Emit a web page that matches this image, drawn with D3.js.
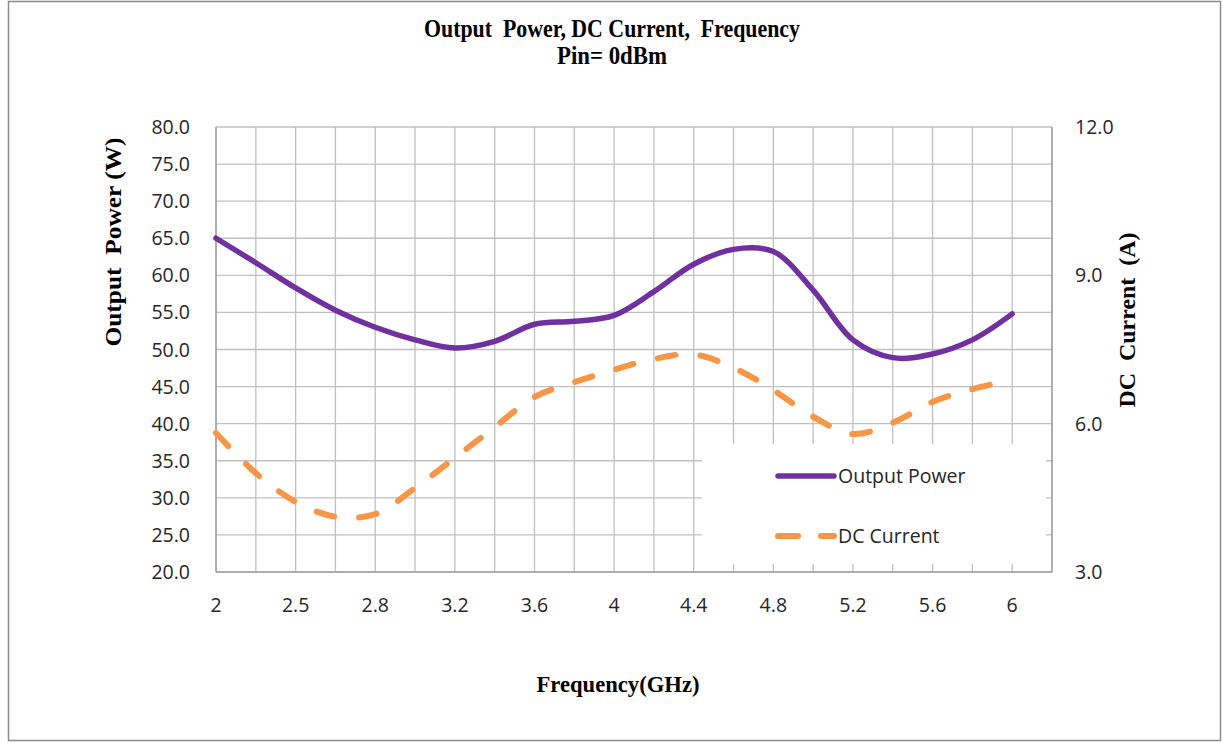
<!DOCTYPE html>
<html>
<head>
<meta charset="utf-8">
<script src="https://cdn.jsdelivr.net/npm/d3@7"></script>
<style>
  body { margin: 0; background: #fff; }
  svg { display: block; }
  .tick-label { font-family: "Open Sans", sans-serif; font-size: 19.5px; fill: #262626; }
  .serif { font-family: "Liberation Serif", "Times New Roman", serif; font-weight: bold; fill: #000; white-space: pre; }
</style>
</head>
<body>
<svg id="chart" width="1223" height="743"></svg>
<script>
// category positions (21 frequency points, one per gridline)
var freqIndex = d3.range(21);
var freqTickLabels = ["2", "2.5", "2.8", "3.2", "3.6", "4", "4.4", "4.8", "5.2", "5.6", "6"];

// Output Power (W), left axis
var outputPower = [65.0, 61.7, 58.3, 55.3, 53.0, 51.3, 50.2, 51.1, 53.4, 53.8, 54.6,
                   57.8, 61.5, 63.5, 63.2, 58.0, 51.3, 48.9, 49.4, 51.3, 54.8];
// DC Current (A), right axis
var dcCurrent = [5.81, 5.00, 4.42, 4.12, 4.17, 4.70, 5.31, 5.93, 6.54, 6.84, 7.09,
                 7.31, 7.40, 7.13, 6.68, 6.14, 5.79, 6.02, 6.44, 6.70, 6.88];

var leftTicks = d3.range(20, 80.1, 5);
var rightTicks = [3, 6, 9, 12];

var svg = d3.select("#chart");

var plot = { left: 216, right: 1052, top: 127, bottom: 572 };

var x = d3.scaleLinear().domain([0, 21]).range([plot.left, plot.right]);
var yL = d3.scaleLinear().domain([20, 80]).range([plot.bottom, plot.top]);
var yR = d3.scaleLinear().domain([3, 12]).range([plot.bottom, plot.top]);

// outer chart border
svg.append("rect")
    .attr("x", 8.5).attr("y", 1.5)
    .attr("width", 1212).attr("height", 739)
    .attr("fill", "none")
    .attr("stroke", "#8c8c8c")
    .attr("stroke-width", 1.5);

// titles
svg.append("text").attr("class", "serif")
    .attr("x", 612).attr("y", 37)
    .attr("text-anchor", "middle")
    .style("font-size", "25px")
    .attr("textLength", 376).attr("lengthAdjust", "spacingAndGlyphs")
    .text("Output  Power, DC Current,  Frequency");
svg.append("text").attr("class", "serif")
    .attr("x", 612).attr("y", 64)
    .attr("text-anchor", "middle")
    .style("font-size", "25px")
    .attr("textLength", 110).attr("lengthAdjust", "spacingAndGlyphs")
    .text("Pin= 0dBm");

// gridlines
var grid = svg.append("g");
grid.selectAll(".hgrid")
    .data(leftTicks)
    .enter().append("line")
    .attr("class", "hgrid")
    .attr("x1", plot.left).attr("x2", plot.right)
    .attr("y1", d => yL(d)).attr("y2", d => yL(d))
    .attr("stroke", "#c0c0c0").attr("stroke-width", 1.3);
grid.selectAll(".vgrid")
    .data(d3.range(22))
    .enter().append("line")
    .attr("class", "vgrid")
    .attr("x1", d => x(d)).attr("x2", d => x(d))
    .attr("y1", plot.top).attr("y2", plot.bottom)
    .attr("stroke", "#c0c0c0").attr("stroke-width", 1.3);

// axis lines
svg.append("line")
    .attr("x1", plot.left).attr("x2", plot.left)
    .attr("y1", plot.top).attr("y2", plot.bottom)
    .attr("stroke", "#a0a0a0").attr("stroke-width", 1.5);
svg.append("line")
    .attr("x1", plot.left).attr("x2", plot.right)
    .attr("y1", plot.bottom).attr("y2", plot.bottom)
    .attr("stroke", "#a0a0a0").attr("stroke-width", 1.5);
svg.append("line")
    .attr("x1", plot.right).attr("x2", plot.right)
    .attr("y1", plot.top).attr("y2", plot.bottom)
    .attr("stroke", "#a0a0a0").attr("stroke-width", 1.5);

// left axis labels
svg.append("g").selectAll("text")
    .data(leftTicks)
    .enter().append("text")
    .attr("class", "tick-label")
    .attr("x", 190)
    .attr("y", d => yL(d))
    .attr("dy", "0.36em")
    .attr("text-anchor", "end")
    .text(d => d3.format(".1f")(d));

// right axis labels
svg.append("g").selectAll("text")
    .data(rightTicks)
    .enter().append("text")
    .attr("class", "tick-label")
    .attr("x", 1075)
    .attr("y", d => yR(d))
    .attr("dy", "0.36em")
    .attr("text-anchor", "start")
    .text(d => d3.format(".1f")(d));

// x axis labels (every other category)
svg.append("g").selectAll("text")
    .data(freqTickLabels)
    .enter().append("text")
    .attr("class", "tick-label")
    .attr("x", (d, i) => x(i * 2))
    .attr("y", 612)
    .attr("text-anchor", "middle")
    .text(d => d);

// axis titles
svg.append("text").attr("class", "serif")
    .attr("transform", "translate(113,242) rotate(-90)")
    .attr("text-anchor", "middle")
    .attr("dominant-baseline", "central")
    .style("font-size", "24px")
    .attr("textLength", 209).attr("lengthAdjust", "spacingAndGlyphs")
    .text("Output  Power (W)");
svg.append("text").attr("class", "serif")
    .attr("transform", "translate(1127,320) rotate(-90)")
    .attr("text-anchor", "middle")
    .attr("dominant-baseline", "central")
    .style("font-size", "24px")
    .attr("textLength", 175).attr("lengthAdjust", "spacingAndGlyphs")
    .text("DC  Current  (A)");
svg.append("text").attr("class", "serif")
    .attr("x", 618).attr("y", 692)
    .attr("text-anchor", "middle")
    .style("font-size", "23px")
    .attr("textLength", 163).attr("lengthAdjust", "spacingAndGlyphs")
    .text("Frequency(GHz)");

// legend box (covers gridlines)
var legend = svg.append("g");
legend.append("rect")
    .attr("x", 702).attr("y", 444)
    .attr("width", 344).attr("height", 120)
    .attr("fill", "#fff");

// series lines
var linePower = d3.line()
    .x((d, i) => x(i))
    .y(d => yL(d))
    .curve(d3.curveCatmullRom.alpha(0.5));
var lineCurrent = d3.line()
    .x((d, i) => x(i))
    .y(d => yR(d))
    .curve(d3.curveCatmullRom.alpha(0.5));

svg.append("path")
    .datum(dcCurrent)
    .attr("d", lineCurrent)
    .attr("fill", "none")
    .attr("stroke", "#f79646")
    .attr("stroke-width", 6)
    .attr("stroke-linecap", "round")
    .attr("stroke-dasharray", "18 25");

svg.append("path")
    .datum(outputPower)
    .attr("d", linePower)
    .attr("fill", "none")
    .attr("stroke", "#7030a0")
    .attr("stroke-width", 5.5)
    .attr("stroke-linecap", "round");

// legend entries
legend.append("line")
    .attr("x1", 778).attr("x2", 834)
    .attr("y1", 476).attr("y2", 476)
    .attr("stroke", "#7030a0").attr("stroke-width", 5.5)
    .attr("stroke-linecap", "round");
legend.append("text").attr("class", "tick-label")
    .attr("x", 838).attr("y", 476).attr("dy", "0.36em")
    .text("Output Power");
legend.append("line")
    .attr("x1", 778).attr("x2", 834)
    .attr("y1", 536).attr("y2", 536)
    .attr("stroke", "#f79646").attr("stroke-width", 6)
    .attr("stroke-linecap", "round")
    .attr("stroke-dasharray", "20 23");
legend.append("text").attr("class", "tick-label")
    .attr("x", 838).attr("y", 536).attr("dy", "0.36em")
    .text("DC Current");
</script>
</body>
</html>
